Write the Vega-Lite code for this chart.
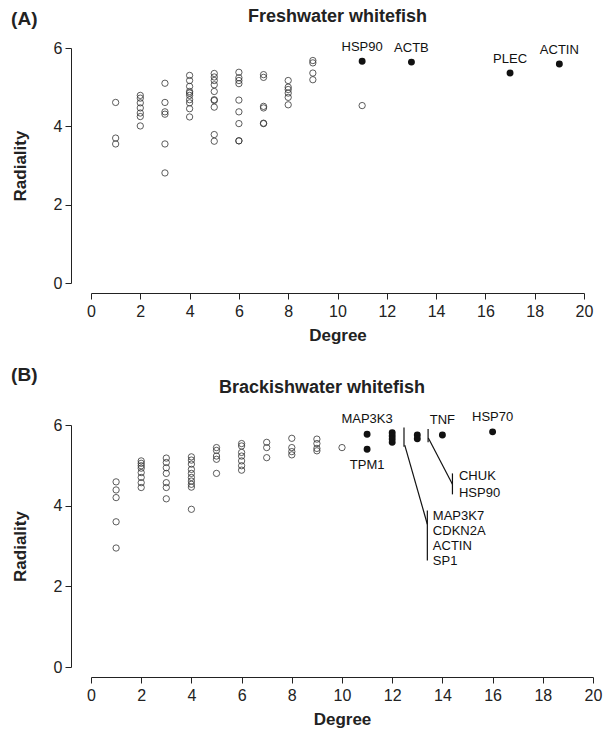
{
  "$schema": "https://vega.github.io/schema/vega-lite/v6.json",
  "padding": {"left": 11, "top": 8, "right": 5, "bottom": 2},
  "spacing": 22,
  "config": {
    "font": "Liberation Sans",
    "view": {"stroke": null},
    "axis": {"grid": false, "domainColor": "#222", "tickColor": "#222", "labelColor": "#222", "titleColor": "#222", "labelFontSize": 16, "titleFontSize": 17, "titleFontWeight": "bold", "tickSize": 6, "labelPadding": 4, "labelFlush": false, "domainWidth": 1, "tickWidth": 1},
    "axisX": {"titlePadding": 8},
    "axisY": {"titlePadding": 24, "labelPadding": 3},
    "title": {"fontSize": 18, "fontWeight": "bold", "color": "#222"}
  },
  "datasets": {
    "fresh": [
      {"degree": 1, "radiality": 4.61}, {"degree": 1, "radiality": 3.70}, {"degree": 1, "radiality": 3.55},
      {"degree": 2, "radiality": 4.79}, {"degree": 2, "radiality": 4.72}, {"degree": 2, "radiality": 4.60}, {"degree": 2, "radiality": 4.47}, {"degree": 2, "radiality": 4.34}, {"degree": 2, "radiality": 4.25}, {"degree": 2, "radiality": 4.01},
      {"degree": 3, "radiality": 5.10}, {"degree": 3, "radiality": 4.61}, {"degree": 3, "radiality": 4.37}, {"degree": 3, "radiality": 4.31}, {"degree": 3, "radiality": 3.55}, {"degree": 3, "radiality": 2.81},
      {"degree": 4, "radiality": 5.30}, {"degree": 4, "radiality": 5.17}, {"degree": 4, "radiality": 5.02}, {"degree": 4, "radiality": 4.89}, {"degree": 4, "radiality": 4.85}, {"degree": 4, "radiality": 4.79}, {"degree": 4, "radiality": 4.68}, {"degree": 4, "radiality": 4.60}, {"degree": 4, "radiality": 4.45}, {"degree": 4, "radiality": 4.24},
      {"degree": 5, "radiality": 5.35}, {"degree": 5, "radiality": 5.26}, {"degree": 5, "radiality": 5.17}, {"degree": 5, "radiality": 5.06}, {"degree": 5, "radiality": 4.89}, {"degree": 5, "radiality": 4.68}, {"degree": 5, "radiality": 4.66}, {"degree": 5, "radiality": 4.49}, {"degree": 5, "radiality": 3.79}, {"degree": 5, "radiality": 3.62},
      {"degree": 6, "radiality": 5.38}, {"degree": 6, "radiality": 5.24}, {"degree": 6, "radiality": 5.17}, {"degree": 6, "radiality": 5.09}, {"degree": 6, "radiality": 4.67}, {"degree": 6, "radiality": 4.37}, {"degree": 6, "radiality": 4.07}, {"degree": 6, "radiality": 3.63}, {"degree": 6, "radiality": 3.63},
      {"degree": 7, "radiality": 5.32}, {"degree": 7, "radiality": 5.25}, {"degree": 7, "radiality": 4.51}, {"degree": 7, "radiality": 4.47}, {"degree": 7, "radiality": 4.08}, {"degree": 7, "radiality": 4.07},
      {"degree": 8, "radiality": 5.17}, {"degree": 8, "radiality": 5.00}, {"degree": 8, "radiality": 4.94}, {"degree": 8, "radiality": 4.85}, {"degree": 8, "radiality": 4.74}, {"degree": 8, "radiality": 4.55},
      {"degree": 9, "radiality": 5.68}, {"degree": 9, "radiality": 5.62}, {"degree": 9, "radiality": 5.36}, {"degree": 9, "radiality": 5.19},
      {"degree": 11, "radiality": 4.53},
      {"degree": 11, "radiality": 5.66, "gene": "HSP90"},
      {"degree": 13, "radiality": 5.64, "gene": "ACTB"},
      {"degree": 17, "radiality": 5.36, "gene": "PLEC"},
      {"degree": 19, "radiality": 5.59, "gene": "ACTIN"}
    ],
    "brackish": [
      {"degree": 1, "radiality": 4.59}, {"degree": 1, "radiality": 4.39}, {"degree": 1, "radiality": 4.20}, {"degree": 1, "radiality": 3.60}, {"degree": 1, "radiality": 2.95},
      {"degree": 2, "radiality": 5.11}, {"degree": 2, "radiality": 5.05}, {"degree": 2, "radiality": 4.99}, {"degree": 2, "radiality": 4.93}, {"degree": 2, "radiality": 4.82}, {"degree": 2, "radiality": 4.70}, {"degree": 2, "radiality": 4.57}, {"degree": 2, "radiality": 4.45},
      {"degree": 3, "radiality": 5.18}, {"degree": 3, "radiality": 5.07}, {"degree": 3, "radiality": 4.94}, {"degree": 3, "radiality": 4.80}, {"degree": 3, "radiality": 4.57}, {"degree": 3, "radiality": 4.45}, {"degree": 3, "radiality": 4.17},
      {"degree": 4, "radiality": 5.21}, {"degree": 4, "radiality": 5.13}, {"degree": 4, "radiality": 5.03}, {"degree": 4, "radiality": 4.90}, {"degree": 4, "radiality": 4.80}, {"degree": 4, "radiality": 4.70}, {"degree": 4, "radiality": 4.61}, {"degree": 4, "radiality": 4.53}, {"degree": 4, "radiality": 4.46}, {"degree": 4, "radiality": 3.91},
      {"degree": 5, "radiality": 5.44}, {"degree": 5, "radiality": 5.37}, {"degree": 5, "radiality": 5.23}, {"degree": 5, "radiality": 5.15}, {"degree": 5, "radiality": 4.80},
      {"degree": 6, "radiality": 5.54}, {"degree": 6, "radiality": 5.48}, {"degree": 6, "radiality": 5.32}, {"degree": 6, "radiality": 5.23}, {"degree": 6, "radiality": 5.11}, {"degree": 6, "radiality": 4.99}, {"degree": 6, "radiality": 4.88},
      {"degree": 7, "radiality": 5.57}, {"degree": 7, "radiality": 5.44}, {"degree": 7, "radiality": 5.19},
      {"degree": 8, "radiality": 5.67}, {"degree": 8, "radiality": 5.44}, {"degree": 8, "radiality": 5.34}, {"degree": 8, "radiality": 5.26},
      {"degree": 9, "radiality": 5.65}, {"degree": 9, "radiality": 5.54}, {"degree": 9, "radiality": 5.42}, {"degree": 9, "radiality": 5.36},
      {"degree": 10, "radiality": 5.44},
      {"degree": 11, "radiality": 5.77, "gene": "MAP3K3"},
      {"degree": 11, "radiality": 5.40, "gene": "TPM1"},
      {"degree": 12, "radiality": 5.81, "gene": "MAP3K7"},
      {"degree": 12, "radiality": 5.73, "gene": "CDKN2A"},
      {"degree": 12, "radiality": 5.65, "gene": "ACTIN"},
      {"degree": 12, "radiality": 5.57, "gene": "SP1"},
      {"degree": 13, "radiality": 5.75, "gene": "CHUK"},
      {"degree": 13, "radiality": 5.66, "gene": "HSP90"},
      {"degree": 14, "radiality": 5.75, "gene": "TNF"},
      {"degree": 16, "radiality": 5.83, "gene": "HSP70"}
    ],
    "leaders": [
      {"d1": 12.47, "r1": 5.94, "d2": 12.47, "r2": 5.46},
      {"d1": 12.5, "r1": 5.50, "d2": 13.4, "r2": 3.54},
      {"d1": 13.4, "r1": 3.88, "d2": 13.4, "r2": 2.64},
      {"d1": 13.43, "r1": 5.90, "d2": 13.43, "r2": 5.57},
      {"d1": 13.44, "r1": 5.68, "d2": 14.4, "r2": 4.53},
      {"d1": 14.4, "r1": 4.80, "d2": 14.4, "r2": 4.28}
    ],
    "callouts": [
      {"label": "MAP3K7", "d": 13.62, "r": 3.74},
      {"label": "CDKN2A", "d": 13.62, "r": 3.36},
      {"label": "ACTIN", "d": 13.62, "r": 2.99},
      {"label": "SP1", "d": 13.62, "r": 2.63},
      {"label": "CHUK", "d": 14.66, "r": 4.74},
      {"label": "HSP90", "d": 14.66, "r": 4.32}
    ]
  },
  "vconcat": [
    {
      "title": {"text": "(A)", "anchor": "start", "frame": "bounds", "fontSize": 19, "offset": -21},
      "vconcat": [
        {
          "width": 493,
          "height": 235,
          "title": {"text": "Freshwater whitefish", "fontSize": 18, "anchor": "middle", "offset": 14},
          "data": {"name": "fresh"},
          "encoding": {
            "x": {"field": "degree", "type": "quantitative", "scale": {"domain": [0, 20], "nice": false}, "axis": {"values": [0, 2, 4, 6, 8, 10, 12, 14, 16, 18, 20], "offset": 10, "title": "Degree"}},
            "y": {"field": "radiality", "type": "quantitative", "scale": {"domain": [0, 6], "nice": false}, "axis": {"values": [0, 2, 4, 6], "offset": 20, "title": "Radiality"}}
          },
          "layer": [
            {"transform": [{"filter": "!datum.gene"}], "mark": {"type": "point", "shape": "circle", "filled": false, "size": 40, "strokeWidth": 0.8, "color": "#333", "opacity": 1}},
            {"transform": [{"filter": "datum.gene"}], "mark": {"type": "circle", "size": 48, "color": "#111", "opacity": 1}},
            {"transform": [{"filter": "datum.gene"}], "mark": {"type": "text", "dy": -14, "fontSize": 13, "color": "#111"}, "encoding": {"text": {"field": "gene"}}}
          ]
        }
      ]
    },
    {
      "title": {"text": "(B)", "anchor": "start", "frame": "bounds", "fontSize": 19, "offset": -6},
      "vconcat": [
        {
          "width": 502,
          "height": 242,
          "title": {"text": "Brackishwater whitefish", "fontSize": 18, "anchor": "middle", "offset": 14, "dx": -20},
          "encoding": {
            "x": {"field": "degree", "type": "quantitative", "scale": {"domain": [0, 20], "nice": false}, "axis": {"values": [0, 2, 4, 6, 8, 10, 12, 14, 16, 18, 20], "offset": 10, "title": "Degree"}},
            "y": {"field": "radiality", "type": "quantitative", "scale": {"domain": [0, 6], "nice": false}, "axis": {"values": [0, 2, 4, 6], "offset": 20, "title": "Radiality"}}
          },
          "layer": [
            {"data": {"name": "brackish"}, "transform": [{"filter": "!datum.gene"}], "mark": {"type": "point", "shape": "circle", "filled": false, "size": 40, "strokeWidth": 0.8, "color": "#333", "opacity": 1}},
            {"data": {"name": "brackish"}, "transform": [{"filter": "datum.gene"}], "mark": {"type": "circle", "size": 48, "color": "#111", "opacity": 1}},
            {"data": {"name": "brackish"}, "transform": [{"filter": "indexof(['MAP3K3','TNF','HSP70'], datum.gene) >= 0"}], "mark": {"type": "text", "dy": -15, "fontSize": 13, "color": "#111"}, "encoding": {"text": {"field": "gene"}}},
            {"data": {"name": "brackish"}, "transform": [{"filter": "datum.gene == 'TPM1'"}], "mark": {"type": "text", "dy": 16, "fontSize": 13, "color": "#111"}, "encoding": {"text": {"field": "gene"}}},
            {"data": {"name": "leaders"}, "mark": {"type": "rule", "color": "#111", "strokeWidth": 1.2}, "encoding": {"x": {"field": "d1", "type": "quantitative", "title": "Degree"}, "y": {"field": "r1", "type": "quantitative", "title": "Radiality"}, "x2": {"field": "d2"}, "y2": {"field": "r2"}}},
            {"data": {"name": "callouts"}, "mark": {"type": "text", "align": "left", "baseline": "middle", "fontSize": 13, "color": "#111"}, "encoding": {"x": {"field": "d", "type": "quantitative", "title": "Degree"}, "y": {"field": "r", "type": "quantitative", "title": "Radiality"}, "text": {"field": "label"}}}
          ]
        }
      ]
    }
  ]
}
